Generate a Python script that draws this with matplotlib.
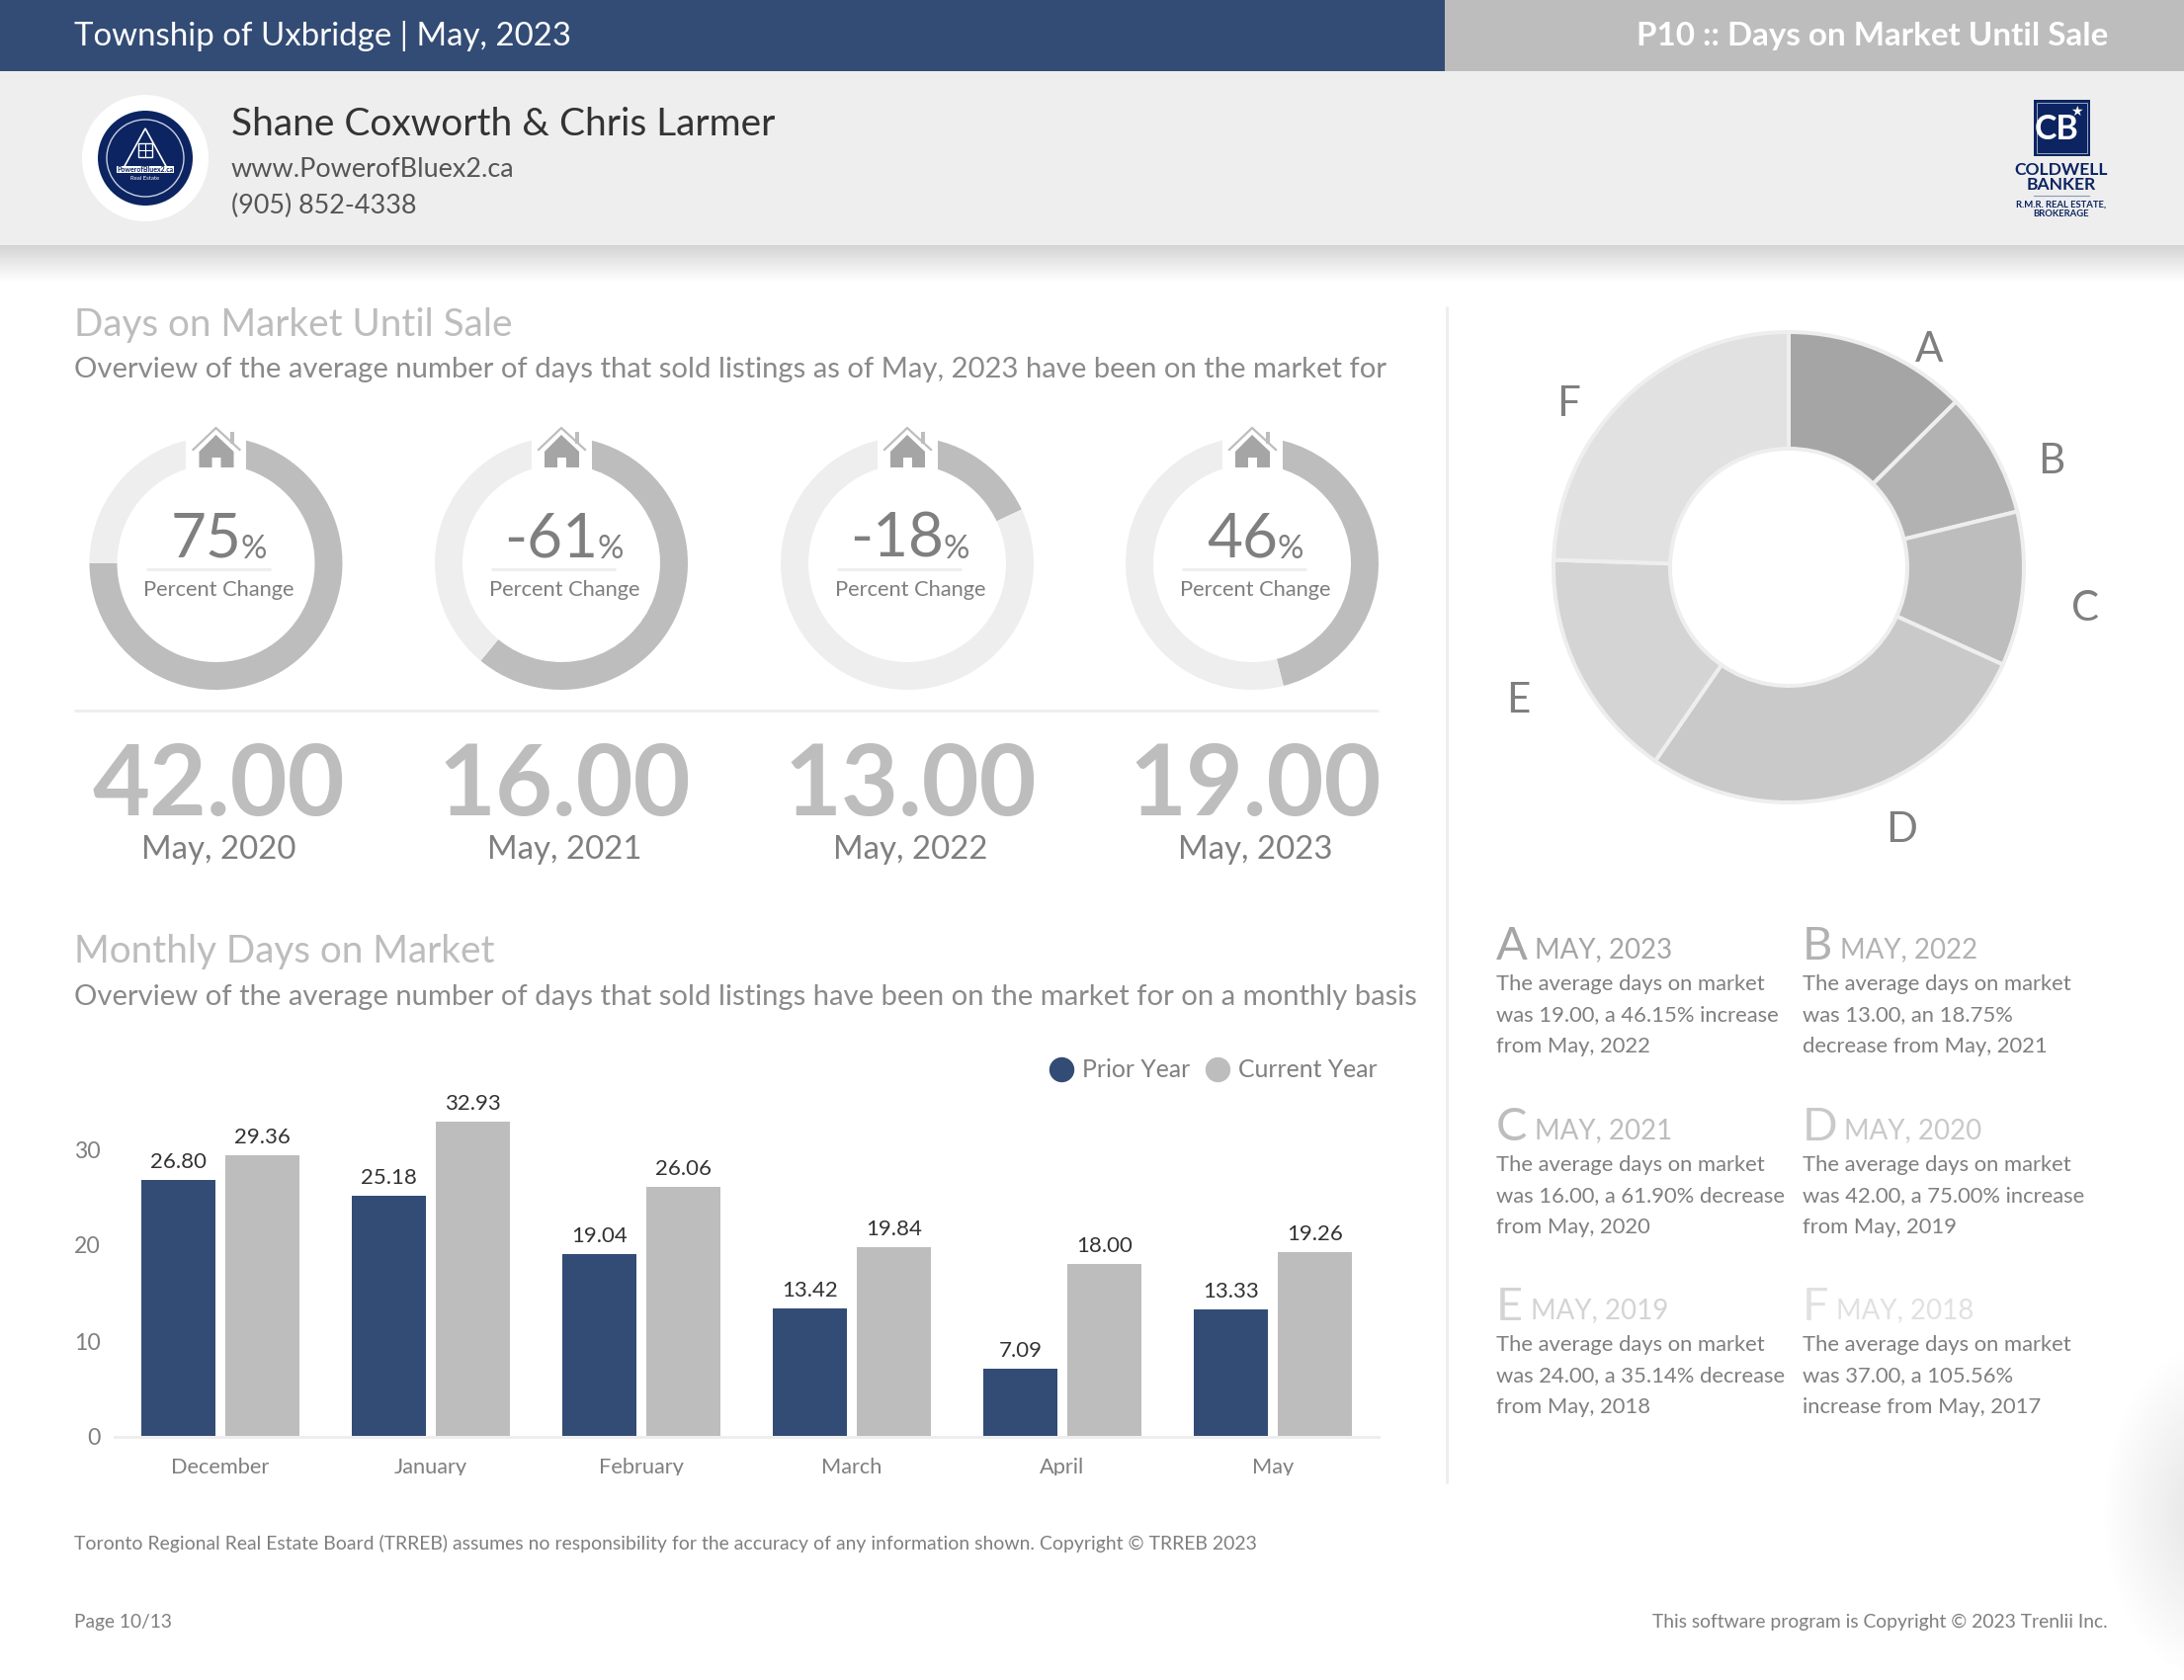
import numpy as np
import matplotlib
matplotlib.use('Agg')
import matplotlib.pyplot as plt
from matplotlib.lines import Line2D
from matplotlib.patches import Circle, Polygon, Rectangle

plt.rcParams['font.family'] = ['Lato', 'DejaVu Sans']

NAVY = '#334c75'
GREY = '#bdbdbd'
PALE = '#eeeeee'
TEXT = '#7f7f7f'
DARK = '#333333'
LOGO = '#0c2461'

# top row of rings
change_pct = [75, 61, 18, 46]
change_lbl = ['75', '-61', '-18', '46']
dom_values = ['42.00', '16.00', '13.00', '19.00']
dom_years = ['May, 2020', 'May, 2021', 'May, 2022', 'May, 2023']

# bars
months = ['December', 'January', 'February', 'March', 'April', 'May']
prior_year = [26.80, 25.18, 19.04, 13.42, 7.09, 13.33]
current_year = [29.36, 32.93, 26.06, 19.84, 18.00, 19.26]

# big donut
pie_labels = ['A', 'B', 'C', 'D', 'E', 'F']
pie_values = [19, 13, 16, 42, 24, 37]
pie_colors = ['#a5a5a5', '#b2b2b2', '#bdbdbd', '#c9c9c9', '#d4d4d4', '#e1e1e1']
pie_label_x = [1952, 2076, 2110, 1924, 1536, 1587]
pie_label_y = [351, 464, 613, 837, 706, 406]

# notes on the right
note_months = ['MAY, 2023', 'MAY, 2022', 'MAY, 2021', 'MAY, 2020', 'MAY, 2019', 'MAY, 2018']
note_text = [
    ['The average days on market', 'was 19.00, a 46.15% increase', 'from May, 2022'],
    ['The average days on market', 'was 13.00, an 18.75%', 'decrease from May, 2021'],
    ['The average days on market', 'was 16.00, a 61.90% decrease', 'from May, 2020'],
    ['The average days on market', 'was 42.00, a 75.00% increase', 'from May, 2019'],
    ['The average days on market', 'was 24.00, a 35.14% decrease', 'from May, 2018'],
    ['The average days on market', 'was 37.00, a 105.56%', 'increase from May, 2017'],
]
note_x = [1514, 1824, 1514, 1824, 1514, 1824]
note_month_x = [1553, 1862, 1553, 1866, 1549, 1858]
note_y = [960, 960, 1143, 1143, 1325, 1325]

W, H = 2210, 1700
fig = plt.figure(figsize=(W / 100, H / 100), dpi=100, facecolor='white')


def px_axes(x0, y0, x1, y1, **kw):
    # axes from pixel box, y counted from the top of the page
    return fig.add_axes([x0 / W, 1 - y1 / H, (x1 - x0) / W, (y1 - y0) / H], **kw)


def pt(px):
    return px * 0.72


# page layer for all the report furniture
page = px_axes(0, 0, W, H, zorder=0)
page.set_xlim(0, W)
page.set_ylim(H, 0)
page.axis('off')

top = px_axes(0, 0, W, H, zorder=5)
top.set_xlim(0, W)
top.set_ylim(H, 0)
top.axis('off')
top.patch.set_alpha(0)


def put(x, y, s, size, color=TEXT, ha='left', va='center', weight='normal', layer=top):
    # va center sits a little high compared to the report, hence the +3
    return layer.text(x, y + 3, s, fontsize=pt(size), color=color, ha=ha, va=va, fontweight=weight)


# header bands
page.add_patch(Rectangle((0, 0), 1462, 72, color=NAVY, lw=0))
page.add_patch(Rectangle((1462, 0), W - 1462, 72, color=GREY, lw=0))
page.add_patch(Rectangle((0, 72), W, 176, color=PALE, lw=0))
shadow = np.linspace(0.83, 1.0, 40).reshape(-1, 1)
page.imshow(shadow, extent=(0, W, 285, 248), cmap='gray', vmin=0, vmax=1, aspect='auto')

# soft grey glow on the right edge, low on the page
gx, gy = np.meshgrid(np.linspace(2120, 2210, 60), np.linspace(1350, 1700, 120))
glow = 1 - 0.07 * np.clip(1 - np.hypot((gx - 2240) / 115, (gy - 1530) / 175), 0, 1) * 1.6
page.imshow(glow, extent=(2120, 2210, 1700, 1350), cmap='gray', vmin=0, vmax=1, aspect='auto')
page.set_xlim(0, W)
page.set_ylim(H, 0)

put(75, 33, 'Township of Uxbridge | May, 2023', 33, 'white')
put(2133, 33, 'P10 :: Days on Market Until Sale', 33.1, 'white', ha='right', weight='bold')
put(234, 123, 'Shane Coxworth & Chris Larmer', 38.9, DARK)
put(234, 168, 'www.PowerofBluex2.ca', 27, '#555555')
put(234, 205, '(905) 852-4338', 27, '#555555')

# left logo
page.add_patch(Circle((147, 160), 64, color='white', lw=0))
page.add_patch(Circle((147, 160), 48, color=LOGO, lw=0))
page.add_patch(Circle((147, 160), 39, fill=False, ec='#c8d0e0', lw=1))
page.add_patch(Polygon([(147, 130), (125, 170), (169, 170)], fill=False, ec='white', lw=1.2))
page.add_patch(Rectangle((140, 145), 14, 14, fill=False, ec='white', lw=1))
page.plot([147, 147], [145, 159], color='white', lw=0.8)
page.plot([140, 154], [152, 152], color='white', lw=0.8)
page.add_patch(Rectangle((118, 168), 58, 7, color='white', lw=0))
put(147, 168.5, 'PowerofBluex2.ca', 7, LOGO, ha='center', weight='bold')
put(147, 177, 'Real Estate', 6, 'white', ha='center')

# right logo
page.add_patch(Rectangle((2058, 101), 57, 57, color=LOGO, lw=0))
page.add_patch(Rectangle((2061, 104), 51, 51, fill=False, ec='#9aa6c4', lw=0.7))
put(2081, 128, 'CB', 34, 'white', ha='center', weight='bold')
put(2101, 110, '\u2605', 14, 'white', ha='center')
put(2086, 169, 'COLDWELL', 17.5, LOGO, ha='center', weight='bold')
put(2086, 184, 'BANKER', 17.5, LOGO, ha='center', weight='bold')
page.plot([2058, 2114], [198, 198], color='#8b98b8', lw=0.8)
put(2086, 204, 'R.M.R. REAL ESTATE,', 9.5, LOGO, ha='center', weight='bold')
put(2086, 213, 'BROKERAGE', 9.5, LOGO, ha='center', weight='bold')

# section headings
put(75, 326, 'Days on Market Until Sale', 38.6, GREY)
put(75, 371, 'Overview of the average number of days that sold listings as of May, 2023 have been on the market for', 29.3, '#8a8a8a')
put(75, 960, 'Monthly Days on Market', 38.6, GREY)
put(75, 1006, 'Overview of the average number of days that sold listings have been on the market for on a monthly basis', 29.3, '#8a8a8a')

page.plot([75, 1395], [719, 719], color=PALE, lw=pt(3), solid_capstyle='butt')
page.plot([1464, 1464], [310, 1501], color=PALE, lw=pt(3), solid_capstyle='butt')

# rings with a house at the top
ring_x = [218.5, 568, 918, 1267]
renderer = fig.canvas.get_renderer()
for i in range(4):
    cx = ring_x[i]
    ax = px_axes(cx - 128, 570 - 128, cx + 128, 570 + 128, zorder=2)
    ax.pie([change_pct[i], 100 - change_pct[i]], colors=[GREY, PALE], startangle=90, counterclock=False,
           radius=1.0, wedgeprops={'width': 28 / 128})
    ax.set_xlim(-1, 1)
    ax.set_ylim(-1, 1)

    top.add_patch(Rectangle((cx - 30.5, 430), 61, 50, color='white', lw=0))
    top.add_patch(Polygon([(cx, 440), (cx - 17, 457), (cx - 17, 473), (cx - 4, 473), (cx - 4, 463), (cx + 5, 463),
                           (cx + 5, 473), (cx + 18, 473), (cx + 18, 457)], color='#a5a5a5', lw=0))
    top.plot([cx - 23, cx, cx + 24], [455, 433, 455], color=GREY, lw=1.6)
    top.add_patch(Rectangle((cx + 14, 437), 4, 12, color=GREY, lw=0))

    # the % sign hangs off the end of the number
    num = put(cx - 10, 543, change_lbl[i], 62, TEXT, ha='center')
    half = num.get_window_extent(renderer).width / 2
    put(cx - 10 + half - 1, 553, '%', 33, TEXT)
    put(cx + 3, 594, 'Percent Change', 21.9, TEXT, ha='center')
    top.plot([cx - 71, cx + 55], [576, 576], color=PALE, lw=pt(3), solid_capstyle='butt')

    put(cx + 3, 793, dom_values[i], 100, GREY, ha='center', weight='bold')
    put(cx + 3, 857, dom_years[i], 33, TEXT, ha='center')

# monthly bars
bars = px_axes(116.5, 1066, 1394.5, 1454, zorder=2)
x = np.arange(len(months))
bw = 0.352
prior_bars = bars.bar(x - 0.2, prior_year, bw, color=NAVY, label='Prior Year')
current_bars = bars.bar(x + 0.2, current_year, bw, color=GREY, label='Current Year')
bars.bar_label(prior_bars, fmt='%.2f', padding=pt(8), fontsize=pt(22.3), color=DARK)
bars.bar_label(current_bars, fmt='%.2f', padding=pt(8), fontsize=pt(22.3), color=DARK)
bars.set_xlim(-0.5, 5.5)
bars.set_ylim(0, 40)
bars.set_yticks([0, 10, 20, 30])
bars.set_xticks(x)
bars.set_xticklabels(months)
bars.tick_params(axis='both', length=0, labelsize=pt(23), labelcolor=TEXT)
bars.tick_params(axis='x', labelsize=pt(21.8), pad=pt(21))
bars.tick_params(axis='y', pad=pt(15))
for s in ['top', 'left', 'right']:
    bars.spines[s].set_visible(False)
bars.spines['bottom'].set_color(PALE)
bars.spines['bottom'].set_linewidth(pt(3))

handles = [Line2D([], [], marker='o', ls='', ms=pt(24), color=NAVY, label='Prior Year'),
           Line2D([], [], marker='o', ls='', ms=pt(24), color=GREY, label='Current Year')]
fig.legend(handles=handles, ncol=2, frameon=False, fontsize=pt(24.8), labelcolor=TEXT, loc='center right',
           bbox_to_anchor=(1394 / W, 1 - 1083 / H), handlelength=1, handletextpad=0.35, columnspacing=0.64,
           borderpad=0, borderaxespad=0)

# the category labels get cut off at the bottom in the report
top.add_patch(Rectangle((100, 1493), 1320, 30, color='white', lw=0))

# big donut, axes a bit larger than the ring so the edge line is not clipped
donut = px_axes(1810 - 245, 574 - 245, 1810 + 245, 574 + 245, zorder=2)
donut.pie(pie_values, colors=pie_colors, startangle=90, counterclock=False, radius=1.0,
          wedgeprops={'width': 118 / 238, 'edgecolor': PALE, 'linewidth': pt(4)})
donut.set_xlim(-245 / 238, 245 / 238)
donut.set_ylim(-245 / 238, 245 / 238)
for lb, lx, ly in zip(pie_labels, pie_label_x, pie_label_y):
    put(lx, ly, lb, 42, TEXT, ha='center')

# notes under the donut
for i in range(6):
    put(note_x[i], note_y[i] - 5, pie_labels[i], 47, pie_colors[i])
    put(note_month_x[i], note_y[i] - 2, note_months[i], 27.6, pie_colors[i])
    for j in range(3):
        put(note_x[i], note_y[i] + 33 + j * 31.5, note_text[i][j], 22, TEXT)

# footer
put(75, 1559, 'Toronto Regional Real Estate Board (TRREB) assumes no responsibility for the accuracy of any information shown. Copyright \u00a9 TRREB 2023', 19.4, TEXT)
put(75, 1638, 'Page 10/13', 19.2, TEXT)
put(2133, 1638, 'This software program is Copyright \u00a9 2023 Trenlii Inc.', 19.3, TEXT, ha='right')

fig.savefig('out.png', dpi=100, facecolor='white')
